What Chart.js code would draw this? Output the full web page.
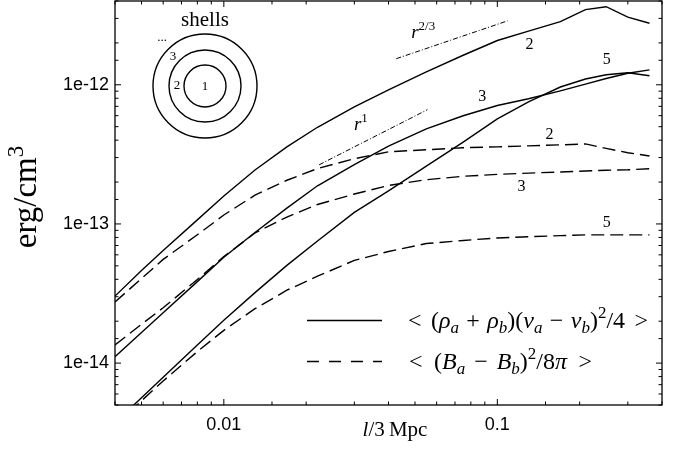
<!DOCTYPE html>
<html>
<head>
<meta charset="utf-8">
<script src="https://cdn.jsdelivr.net/npm/chart.js@4.4.0/dist/chart.umd.min.js"></script>
<style>
html,body{margin:0;padding:0;background:#fff;}
</style>
</head>
<body>
<canvas id="shellChart" width="680" height="451"></canvas>
<script>
// separation l (in units of 3 Mpc)
let lengthScale=[0.004,0.005,0.006,0.008,0.01,0.013,0.017,0.022,0.03,0.04,0.055,0.075,0.1,0.13,0.17,0.21,0.25,0.3,0.36];

// kinetic term <(rho_a+rho_b)(v_a-v_b)^2/4>, shells 2, 3, 5
let kinShell2=[3.03e-14,4.62e-14,6.44e-14,1.07e-13,1.59e-13,2.44e-13,3.58e-13,4.95e-13,6.93e-13,9.21e-13,1.24e-12,1.63e-12,2.08e-12,2.43e-12,2.84e-12,3.47e-12,3.64e-12,3.06e-12,2.77e-12];
let kinShell3=[1.11e-14,1.66e-14,2.30e-14,3.85e-14,5.76e-14,8.69e-14,1.30e-13,1.88e-13,2.67e-13,3.62e-13,4.82e-13,5.99e-13,7.10e-13,7.93e-13,9.04e-13,1.01e-12,1.11e-12,1.21e-12,1.28e-12];
let kinShell5=[3.72e-15,5.64e-15,7.91e-15,1.35e-14,2.03e-14,3.21e-14,5.04e-14,7.54e-14,1.21e-13,1.73e-13,2.60e-13,3.87e-13,5.68e-13,7.54e-13,9.64e-13,1.10e-12,1.18e-12,1.22e-12,1.16e-12];

// magnetic term <(B_a-B_b)^2/8pi>, shells 2, 3, 5
let magShell2=[2.75e-14,4.05e-14,5.56e-14,8.36e-14,1.16e-13,1.61e-13,2.06e-13,2.50e-13,2.94e-13,3.30e-13,3.41e-13,3.53e-13,3.58e-13,3.64e-13,3.70e-13,3.76e-13,3.49e-13,3.25e-13,3.08e-13];
let magShell3=[1.35e-14,1.90e-14,2.50e-14,3.99e-14,5.82e-14,8.61e-14,1.12e-13,1.38e-13,1.64e-13,1.89e-13,2.08e-13,2.20e-13,2.27e-13,2.32e-13,2.36e-13,2.40e-13,2.43e-13,2.45e-13,2.49e-13];
let magShell5=[3.59e-15,5.36e-15,7.45e-15,1.21e-14,1.72e-14,2.46e-14,3.34e-14,4.21e-14,5.47e-14,6.34e-14,7.23e-14,7.61e-14,7.93e-14,8.09e-14,8.24e-14,8.34e-14,8.34e-14,8.34e-14,8.34e-14];

// power law guides
let guideR23X=[0.0427,0.109];
let guideR23Y=[1.54e-12,2.88e-12];
let guideR1X=[0.0223,0.0555];
let guideR1Y=[2.66e-13,6.62e-13];

// shell number labels next to the curves
let curveLabelText=['2','3','5','2','3','5'];
let curveLabelX=[0.131,0.0881,0.251,0.155,0.1225,0.251];
let curveLabelY=[1.94e-12,8.2e-13,1.51e-12,4.37e-13,1.85e-13,1.02e-13];

let xTickValues=[0.01,0.1];
let xTickLabels=['0.01','0.1'];
let yTickValues=[1e-14,1e-13,1e-12];
let yTickLabels=['1e-14','1e-13','1e-12'];

const SERIF='"Liberation Serif"';

function pts(xs,ys){
	return xs.map((x,i)=>({x:x,y:ys[i]}));
}

function pickLabel(v,vals,labels){
	for(let i=0;i<vals.length;i++){
		if(Math.abs(v/vals[i]-1)<1e-6) return labels[i];
	}
	return '';
}

// draws a run of math-ish text: n normal, i italic, sub / sup, sp = space in em
// if fitW is given the spaces get stretched so the run is fitW wide
function drawMath(ctx,x,y,parts,size,align,fitW){
	const fonts={
		n:size+'px '+SERIF,
		i:'italic '+size+'px '+SERIF,
		sub:'italic '+Math.round(size*0.7)+'px '+SERIF,
		sup:Math.round(size*0.7)+'px '+SERIF
	};
	let w=0, spW=0;
	parts.forEach(p=>{
		if(p[1]==='sp'){spW+=p[0]*size;return;}
		ctx.font=fonts[p[1]];w+=ctx.measureText(p[0]).width;
	});
	let k=1;
	if(fitW && spW>0) k=Math.max(0.3,(fitW-w)/spW);
	w+=spW*k;
	let cx=align==='center'?x-w/2:x;
	ctx.textAlign='left';
	ctx.textBaseline='alphabetic';
	parts.forEach(p=>{
		if(p[1]==='sp'){cx+=p[0]*size*k;return;}
		ctx.font=fonts[p[1]];
		let dy=0;
		if(p[1]==='sub') dy=size*0.2;
		if(p[1]==='sup') dy=-size*0.4;
		ctx.fillText(p[0],cx,y+dy);
		cx+=ctx.measureText(p[0]).width;
	});
}

const decorPlugin={
	id:'decor',
	afterDraw(chart){
		const ctx=chart.ctx;
		const ca=chart.chartArea;
		const xs=chart.scales.x, ys=chart.scales.y;
		ctx.save();
		ctx.strokeStyle='#000';
		ctx.fillStyle='#000';

		// frame
		ctx.lineWidth=1.3;
		ctx.strokeRect(ca.left,ca.top,ca.right-ca.left,ca.bottom-ca.top);

		// inward ticks on all four sides
		ctx.lineWidth=1;
		ctx.beginPath();
		xs.ticks.forEach(t=>{
			const px=xs.getPixelForValue(t.value);
			const lg=Math.log10(t.value);
			const len=Math.abs(lg-Math.round(lg))<1e-6?6:3.5;
			ctx.moveTo(px,ca.bottom);ctx.lineTo(px,ca.bottom-len);
			ctx.moveTo(px,ca.top);ctx.lineTo(px,ca.top+len);
		});
		ys.ticks.forEach(t=>{
			const py=ys.getPixelForValue(t.value);
			const lg=Math.log10(t.value);
			const len=Math.abs(lg-Math.round(lg))<1e-6?6:3.5;
			ctx.moveTo(ca.left,py);ctx.lineTo(ca.left+len,py);
			ctx.moveTo(ca.right,py);ctx.lineTo(ca.right-len,py);
		});
		ctx.stroke();

		// shell numbers on curves
		ctx.font='16px '+SERIF;
		ctx.textAlign='center';
		ctx.textBaseline='middle';
		curveLabelText.forEach((t,i)=>{
			ctx.fillText(t,xs.getPixelForValue(curveLabelX[i]),ys.getPixelForValue(curveLabelY[i]));
		});

		// guide labels
		drawMath(ctx,xs.getPixelForValue(0.0484),ys.getPixelForValue(2.18e-12),[['r','i'],['2/3','sup']],19,'left');
		drawMath(ctx,xs.getPixelForValue(0.0299),ys.getPixelForValue(4.75e-13),[['r','i'],['1','sup']],19,'left');

		// shells sketch
		const cx=ca.left+90, cy=ca.top+85;
		ctx.lineWidth=1.4;
		[21,36,52].forEach(r=>{ctx.beginPath();ctx.arc(cx,cy,r,0,Math.PI*2);ctx.stroke();});
		ctx.textAlign='center';
		ctx.textBaseline='middle';
		ctx.font='13px '+SERIF;
		ctx.fillText('1',cx,cy+1);
		ctx.fillText('2',cx-28,cy);
		ctx.fillText('3',cx-32,cy-29);
		ctx.fillText('...',cx-43,cy-48);
		ctx.font='21px '+SERIF;
		ctx.textBaseline='alphabetic';
		ctx.fillText('shells',cx,ca.top+25);

		// legend
		const lx=ca.left+192, lw=75;
		ctx.lineWidth=1.4;
		ctx.beginPath();ctx.moveTo(lx,320.5);ctx.lineTo(lx+lw,320.5);ctx.stroke();
		ctx.setLineDash([12,10]);
		ctx.beginPath();ctx.moveTo(lx,361.5);ctx.lineTo(lx+lw,361.5);ctx.stroke();
		ctx.setLineDash([]);
		const rel=[0.28,'sp'], bin=[0.22,'sp'];
		drawMath(ctx,408,328,[['<','n'],rel,['(','n'],['ρ','i'],['a','sub'],bin,['+','n'],bin,['ρ','i'],['b','sub'],[')(','n'],['v','i'],['a','sub'],bin,['−','n'],bin,['v','i'],['b','sub'],[')','n'],['2','sup'],['/4','n'],rel,['>','n']],24,'left',240);
		drawMath(ctx,409,369,[['<','n'],rel,['(','n'],['B','i'],['a','sub'],bin,['−','n'],bin,['B','i'],['b','sub'],[')','n'],['2','sup'],['/8','n'],['π','i'],rel,['>','n']],24,'left',183);

		// axis titles
		drawMath(ctx,395,436,[['l','i'],['/3','n'],[0.2,'sp'],['Mpc','n']],21,'center');
		ctx.translate(36,197);
		ctx.rotate(-Math.PI/2);
		drawMath(ctx,0,0,[['erg/cm','n'],['3','sup']],33,'center');
		ctx.restore();
	}
};

const solid={borderColor:'#000',borderWidth:1.4,pointRadius:0,fill:false};
const dashed={borderColor:'#000',borderWidth:1.4,pointRadius:0,fill:false,borderDash:[13,6]};
const dashDot={borderColor:'#000',borderWidth:1,pointRadius:0,fill:false,borderDash:[5,2,1,2]};

new Chart(document.getElementById('shellChart'),{
	type:'line',
	data:{
		datasets:[
			Object.assign({label:'kin 2',data:pts(lengthScale,kinShell2)},solid),
			Object.assign({label:'kin 3',data:pts(lengthScale,kinShell3)},solid),
			Object.assign({label:'kin 5',data:pts(lengthScale,kinShell5)},solid),
			Object.assign({label:'mag 2',data:pts(lengthScale,magShell2)},dashed),
			Object.assign({label:'mag 3',data:pts(lengthScale,magShell3)},dashed),
			Object.assign({label:'mag 5',data:pts(lengthScale,magShell5)},dashed),
			Object.assign({label:'r^2/3',data:pts(guideR23X,guideR23Y)},dashDot),
			Object.assign({label:'r^1',data:pts(guideR1X,guideR1Y)},dashDot)
		]
	},
	options:{
		responsive:false,
		animation:false,
		layout:{padding:{top:1,right:18,left:0,bottom:0}},
		plugins:{legend:{display:false},tooltip:{enabled:false}},
		elements:{line:{tension:0}},
		scales:{
			x:{
				type:'logarithmic',min:0.004,max:0.4,
				grid:{display:false,drawTicks:false},
				border:{display:false},
				ticks:{autoSkip:false,maxRotation:0,padding:9,color:'#000',
					font:{family:'"Liberation Sans"',size:18},
					callback:v=>pickLabel(v,xTickValues,xTickLabels)},
				afterFit:s=>{s.height=46;s.paddingLeft=0;s.paddingRight=0;}
			},
			y:{
				type:'logarithmic',min:5e-15,max:4e-12,
				grid:{display:false,drawTicks:false},
				border:{display:false},
				ticks:{autoSkip:false,padding:6,color:'#000',
					font:{family:'"Liberation Sans"',size:18},
					callback:v=>pickLabel(v,yTickValues,yTickLabels)},
				afterFit:s=>{s.width=115;s.paddingTop=0;s.paddingBottom=0;}
			}
		}
	},
	plugins:[decorPlugin]
});
</script>
</body>
</html>
